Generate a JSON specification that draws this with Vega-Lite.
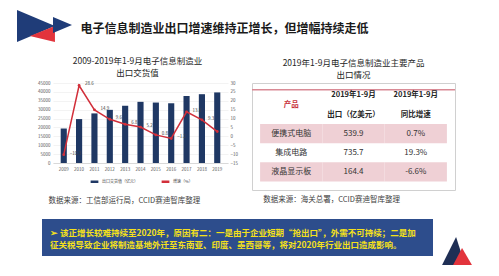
{
  "$schema": "https://vega.github.io/schema/vega-lite/v6.json",
  "background": "white",
  "padding": {"left": 17, "top": 10, "right": 0, "bottom": 0},
  "config": {
    "font": "Noto Sans CJK SC",
    "view": {"stroke": null},
    "legend": {"layout": {"bottom": {"anchor": "middle"}}}
  },
  "spacing": 14,
  "resolve": {"scale": {"color": "independent", "shape": "independent"}, "legend": {"color": "independent", "shape": "independent"}},
  "vconcat": [
    {
      "spacing": 8,
      "resolve": {"scale": {"color": "independent", "shape": "independent"}},
      "hconcat": [
        {
          "width": 55, "height": 32,
          "data": {"values": [{"part": "大三角"}, {"part": "红三角"}, {"part": "小三角"}]},
          "mark": {"type": "point", "filled": true, "opacity": 1, "size": 3025, "strokeWidth": 0},
          "encoding": {
            "shape": {"field": "part", "type": "nominal", "legend": null,
              "scale": {"domain": ["大三角", "红三角", "小三角"], "range": ["M-1,-0.58L-1,0.58L0.38,0Z", "M-0.53,0.36L0.38,0L0.38,0.58Z", "M0.31,-0.33L0.31,0.25L1,-0.04Z"]}},
            "color": {"field": "part", "type": "nominal", "legend": null,
              "scale": {"domain": ["大三角", "红三角", "小三角"], "range": ["#1f3c78", "#e2343c", "#1f3c78"]}}
          }
        },
        {
          "width": 287, "height": 32,
          "data": {"values": [{"title": "电子信息制造业出口增速维持正增长，但增幅持续走低"}]},
          "mark": {"type": "text", "fontSize": 12, "fontWeight": "bold", "color": "#1a1a1a", "dy": 3},
          "encoding": {"text": {"field": "title", "type": "nominal"}}
        }
      ]
    },
    {
      "spacing": 0,
      "resolve": {"scale": {"color": "independent", "shape": "independent"}, "legend": {"color": "independent"}},
      "hconcat": [
        {"width": 20, "height": 1, "data": {"values": []}, "mark": "point"},
        {
          "spacing": 12,
          "resolve": {"scale": {"color": "independent", "shape": "independent"}, "legend": {"color": "independent"}},
          "hconcat": [
            {
              "title": {"text": ["2009-2019年1-9月电子信息制造业", "出口交货值"], "fontSize": 8.5, "fontWeight": "normal", "color": "#262626", "lineHeight": 12, "offset": 3, "anchor": "middle"},
              "resolve": {"scale": {"color": "independent"}, "legend": {"color": "independent"}},
              "vconcat": [
                {
                  "width": 175, "height": 80,
                  "data": {"values": [
                    {"year": "2009", "value": 19400, "growth": -10.3},
                    {"year": "2010", "value": 24700, "growth": 28.6},
                    {"year": "2011", "value": 27900, "growth": 14.9},
                    {"year": "2012", "value": 29900, "growth": 9.6},
                    {"year": "2013", "value": 32200, "growth": 6.8},
                    {"year": "2014", "value": 34400, "growth": 5.2},
                    {"year": "2015", "value": 34000, "growth": 0.8},
                    {"year": "2016", "value": 33600, "growth": -1.2},
                    {"year": "2017", "value": 37700, "growth": 13.8},
                    {"year": "2018", "value": 38700, "growth": 9.3},
                    {"year": "2019", "value": 39700, "growth": 2.7}
                  ]},
                  "title": {"text": "数据来源：工信部运行局，CCID赛迪智库整理", "orient": "bottom", "anchor": "start", "dx": 11, "fontSize": 7.5, "fontWeight": "normal", "color": "#404040", "offset": 10},
                  "encoding": {
                    "x": {"field": "year", "type": "ordinal",
                      "scale": {"paddingInner": 0.6, "paddingOuter": 0.5},
                      "axis": {"title": null, "labelFontSize": 4.5, "labelColor": "#595959", "ticks": false, "domainColor": "#d9d9d9", "labelAngle": 0, "labelPadding": 3}}
                  },
                  "layer": [
                    {
                      "mark": {"type": "bar"},
                      "encoding": {
                        "y": {"field": "value", "type": "quantitative",
                          "scale": {"domain": [0, 45000]},
                          "axis": {"title": null, "values": [0, 5000, 10000, 15000, 20000, 25000, 30000, 35000, 40000, 45000], "format": "d", "labelFontSize": 4.5, "labelColor": "#595959", "ticks": false, "domain": false, "gridColor": "#e6e6e6", "gridWidth": 0.5, "labelPadding": 3}},
                        "color": {"datum": "出口交货值（亿元）", "type": "nominal",
                          "scale": {"domain": ["出口交货值（亿元）", "增速（%）"], "range": ["#1f3864", "#d22f3a"]},
                          "legend": {"title": null, "orient": "bottom", "direction": "horizontal", "symbolType": "stroke", "symbolStrokeWidth": 2.5, "symbolSize": 60, "labelFontSize": 4, "labelColor": "#404040", "labelOffset": 2, "columnPadding": 18, "offset": 5}}
                      }
                    },
                    {
                      "mark": {"type": "line", "strokeWidth": 1.5, "point": {"filled": true, "size": 8}},
                      "encoding": {
                        "y": {"field": "growth", "type": "quantitative",
                          "scale": {"domain": [-15, 30]},
                          "axis": {"orient": "right", "title": null, "values": [-15, -10, -5, 0, 5, 10, 15, 20, 25, 30], "labelFontSize": 4.5, "labelColor": "#595959", "ticks": false, "domain": false, "grid": false, "labelPadding": 2}},
                        "color": {"datum": "增速（%）", "type": "nominal"}
                      }
                    },
                    {
                      "transform": [{"filter": "datum.year != '2019'"}],
                      "mark": {"type": "text", "fontSize": 4.5, "color": "#404040", "align": "left", "dx": 6, "dy": -1},
                      "encoding": {
                        "y": {"field": "growth", "type": "quantitative", "scale": {"domain": [-15, 30]}, "axis": null},
                        "text": {"field": "growth", "type": "quantitative", "format": ".1f"}
                      }
                    }
                  ],
                  "resolve": {"scale": {"y": "independent"}}
                }
              ]
            },
            {
              "title": {"text": ["2019年1-9月电子信息制造业主要产品", "出口情况"], "fontSize": 8.5, "fontWeight": "normal", "color": "#262626", "lineHeight": 12, "offset": 3, "anchor": "middle"},
              "vconcat": [
                {
                  "width": 203, "height": 107,
                  "view": {"stroke": "#d0d0d0", "strokeWidth": 1},
                  "title": {"text": "数据来源：海关总署，CCID赛迪智库整理", "orient": "bottom", "anchor": "start", "dx": 12, "fontSize": 7.5, "fontWeight": "normal", "color": "#404040", "offset": 6},
                  "data": {"values": [
                    {"row": "h1", "col": "c1", "label": "产品"},
                    {"row": "h1", "col": "c2", "label": "2019年1-9月"},
                    {"row": "h1", "col": "c3", "label": "2019年1-9月"},
                    {"row": "h2", "col": "c2", "label": "出口（亿美元）"},
                    {"row": "h2", "col": "c3", "label": "同比增速"},
                    {"row": "r1", "col": "c1", "label": "便携式电脑"},
                    {"row": "r1", "col": "c2", "label": "539.9"},
                    {"row": "r1", "col": "c3", "label": "0.7%"},
                    {"row": "r2", "col": "c1", "label": "集成电路"},
                    {"row": "r2", "col": "c2", "label": "735.7"},
                    {"row": "r2", "col": "c3", "label": "19.3%"},
                    {"row": "r3", "col": "c1", "label": "液晶显示板"},
                    {"row": "r3", "col": "c2", "label": "164.4"},
                    {"row": "r3", "col": "c3", "label": "-6.6%"}
                  ]},
                  "layer": [
                    {
                      "transform": [{"filter": "datum.row == 'r1' || datum.row == 'r3'"}],
                      "mark": {"type": "rect", "color": "#efd0d5"},
                      "encoding": {
                        "x": {"field": "col", "type": "nominal", "scale": {"domain": ["c1", "c2", "c3"], "paddingInner": 0, "paddingOuter": 0.13}, "axis": null},
                        "y": {"field": "row", "type": "nominal", "scale": {"domain": ["h1", "h2", "r1", "r2", "r3"], "paddingInner": 0, "paddingOuter": 0.3, "align": 0.25}, "axis": null}
                      }
                    },
                    {
                      "transform": [{"filter": "datum.row == 'h1' && datum.col == 'c1'"}],
                      "mark": {"type": "rule", "color": "#d98a95", "strokeWidth": 1.5},
                      "encoding": {
                        "y": {"field": "row", "type": "nominal", "bandPosition": 0.2, "axis": null}
                      }
                    },
                    {
                      "transform": [{"filter": "(datum.row == 'h1' || datum.row == 'h2') && datum.col != 'c1'"}],
                      "mark": {"type": "text", "fontSize": 7.5, "fontWeight": "bold", "color": "#262626"},
                      "encoding": {
                        "x": {"field": "col", "type": "nominal", "axis": null},
                        "y": {"field": "row", "type": "nominal", "axis": null},
                        "text": {"field": "label", "type": "nominal"}
                      }
                    },
                    {
                      "transform": [{"filter": "datum.row == 'h1' && datum.col == 'c1'"}],
                      "mark": {"type": "text", "fontSize": 7.5, "fontWeight": "bold", "color": "#c8323c"},
                      "encoding": {
                        "x": {"field": "col", "type": "nominal", "axis": null},
                        "y": {"field": "row", "type": "nominal", "bandPosition": 1, "axis": null},
                        "text": {"field": "label", "type": "nominal"}
                      }
                    },
                    {
                      "transform": [{"filter": "datum.row == 'r1' || datum.row == 'r2' || datum.row == 'r3'"}],
                      "mark": {"type": "text", "fontSize": 8, "color": "#333333"},
                      "encoding": {
                        "x": {"field": "col", "type": "nominal", "axis": null},
                        "y": {"field": "row", "type": "nominal", "axis": null},
                        "text": {"field": "label", "type": "nominal"}
                      }
                    }
                  ]
                }
              ]
            }
          ]
        }
      ]
    },
    {
      "spacing": 0,
      "resolve": {"scale": {"color": "independent", "shape": "independent"}},
      "hconcat": [
        {"width": 25, "height": 1, "data": {"values": []}, "mark": "point"},
        {
          "spacing": 9,
          "resolve": {"scale": {"color": "independent", "shape": "independent"}},
          "hconcat": [
            {
              "width": 391, "height": 37,
              "view": {"fill": "#2d4d8c", "stroke": null},
              "data": {"values": [
                {"line": "1", "text": "➢ 该正增长较难持续至2020年，原因有二：一是由于企业短期“抢出口”，外需不可持续；二是加"},
                {"line": "2", "text": "  征关税导致企业将制造基地外迁至东南亚、印度、墨西哥等，将对2020年行业出口造成影响。"}
              ]},
              "mark": {"type": "text", "align": "left", "fontSize": 8.5, "fontWeight": "bold", "color": "#f5e11b", "dx": 8},
              "encoding": {
                "x": {"datum": 0, "type": "quantitative", "scale": {"domain": [0, 1]}, "axis": null},
                "y": {"field": "line", "type": "ordinal", "scale": {"type": "point", "padding": 1, "align": 0.55}, "axis": null},
                "text": {"field": "text", "type": "nominal"}
              }
            },
            {
              "width": 30, "height": 46,
              "data": {"values": [{"part": "蓝"}, {"part": "红"}]},
              "mark": {"type": "point", "filled": true, "opacity": 1, "size": 2116, "strokeWidth": 0},
              "encoding": {
                "shape": {"field": "part", "type": "nominal", "legend": null,
                  "scale": {"domain": ["蓝", "红"], "range": ["M-0.65,1L-0.04,-0.22L0.35,1Z", "M-0.17,1L0.22,0.26L0.65,1Z"]}},
                "color": {"field": "part", "type": "nominal", "legend": null,
                  "scale": {"domain": ["蓝", "红"], "range": ["#1f2f55", "#e2343c"]}}
              }
            }
          ]
        }
      ]
    }
  ]
}
